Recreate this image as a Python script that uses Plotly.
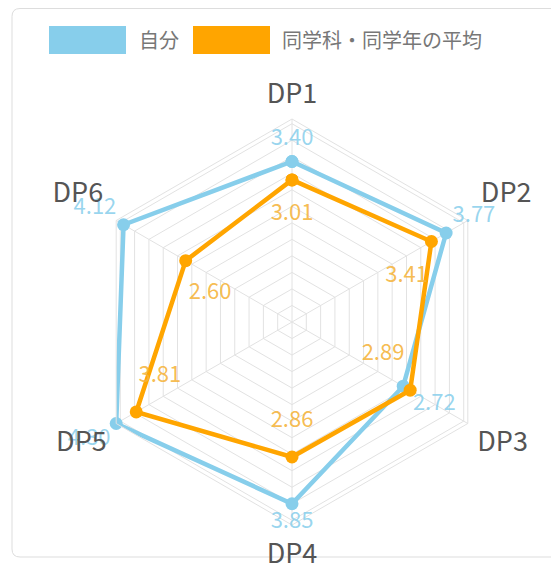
import plotly.graph_objects as go

# page body has an 8px margin, so the figure starts at (8, 8) in the window
OFF = 8
W, H = 559 - OFF, 566 - OFF

dims = ["DP1", "DP2", "DP3", "DP4", "DP5", "DP6"]
self_scores = [3.40, 3.77, 2.72, 3.85, 4.30, 4.12]
avg_scores = [3.01, 3.41, 2.89, 2.86, 3.81, 2.60]
legend_names = ["自分", "同学科・同学年の平均"]

BLUE = "#87CEEB"
ORANGE = "#FFA500"
FONT = "Noto Sans CJK JP"

# label placement (style only)
self_dr = [0.46, 0.68, 0.76, 0.39, 0.66, 0.70]
avg_dr = [-0.74, -0.80, -0.84, -0.75, -0.78, -0.76]
avg_dtheta = [0, 8.4, -10.1, 0, 7.5, -10.5]
dim_ticktext = ["DP1", "DP2<br> ", "DP3", "DP4", "DP5", "DP6<br> "]
dim_label_angles = [0, 62, 120, 180, 240, 298]

spokes = [i * 360 / len(dims) for i in range(len(dims))]


def px(x, y):
    # window pixel -> paper coords
    return (x - OFF) / W, 1 - (y - OFF) / H


fig = go.Figure()

for vals, color, name in [(self_scores, BLUE, legend_names[0]), (avg_scores, ORANGE, legend_names[1])]:
    fig.add_trace(
        go.Scatterpolar(
            r=vals + vals[:1],
            theta=dims + dims[:1],
            mode="lines+markers",
            name=name,
            line=dict(color=color, width=4.5),
            marker=dict(color=color, size=13),
            subplot="polar",
            showlegend=False,
            cliponaxis=False,
        )
    )

fig.add_trace(
    go.Scatterpolar(
        r=[v + d for v, d in zip(self_scores, self_dr)],
        theta=spokes,
        mode="text",
        text=[f"{v:.2f}" for v in self_scores],
        textfont=dict(color="rgba(135,206,235,0.85)", size=22, family=FONT),
        subplot="polar2",
        showlegend=False,
        cliponaxis=False,
    )
)
fig.add_trace(
    go.Scatterpolar(
        r=[v + d for v, d in zip(avg_scores, avg_dr)],
        theta=[t + d for t, d in zip(spokes, avg_dtheta)],
        mode="text",
        text=[f"{v:.2f}" for v in avg_scores],
        textfont=dict(color="rgba(245,180,60,0.9)", size=22, family=FONT),
        subplot="polar2",
        showlegend=False,
        cliponaxis=False,
    )
)

# chart centre and radius, in window pixels
CX, CY, R = 292, 322, 203
rmax = 4.3
R2 = 240  # larger overlay so the outer value labels are not dropped


def dom(rad):
    a = px(CX - rad, CY + rad)
    b = px(CX + rad, CY - rad)
    return dict(x=[a[0], b[0]], y=[a[1], b[1]])


ring_vals = [round(0.35 * i, 2) for i in range(1, 13)]

label_axis = dict(
    type="linear",
    thetaunit="degrees",
    rotation=90,
    direction="clockwise",
    tickmode="array",
    tickvals=dim_label_angles,
    ticktext=dim_ticktext,
    ticks="outside",
    ticklen=5,
    tickcolor="rgba(0,0,0,0)",
    showline=False,
    showgrid=False,
    tickfont=dict(size=27, color="#555555", family=FONT),
)

fig.update_layout(
    width=W,
    height=H,
    autosize=False,
    margin=dict(l=0, r=0, t=0, b=0),
    paper_bgcolor="white",
    plot_bgcolor="white",
    font=dict(family=FONT, color="#555555"),
    polar=dict(
        domain=dom(R),
        bgcolor="rgba(0,0,0,0)",
        gridshape="linear",
        radialaxis=dict(
            range=[0, rmax],
            tickvals=ring_vals,
            showticklabels=False,
            ticks="",
            showline=False,
            gridcolor="#e2e2e2",
            gridwidth=1,
        ),
        angularaxis=dict(
            type="category",
            categoryarray=dims,
            rotation=90,
            direction="clockwise",
            showticklabels=False,
            ticks="",
            showline=True,
            linecolor="#e2e2e2",
            gridcolor="#e2e2e2",
        ),
    ),
    polar2=dict(
        domain=dom(R2),
        bgcolor="rgba(0,0,0,0)",
        radialaxis=dict(range=[0, rmax * R2 / R], visible=False),
        angularaxis=dict(
            type="linear",
            thetaunit="degrees",
            rotation=90,
            direction="clockwise",
            visible=False,
        ),
    ),
    polar3=dict(
        domain=dom(R),
        bgcolor="rgba(0,0,0,0)",
        radialaxis=dict(range=[0, rmax], visible=False),
        angularaxis=label_axis,
    ),
)

# polar3 needs a trace to be drawn; an empty one carries its axis labels
fig.add_trace(go.Scatterpolar(r=[], theta=[], subplot="polar3", showlegend=False, hoverinfo="skip"))

# card border
bx0, by0 = 12, 8.5
bx1, by1 = 620, 557
rr = 8
fig.add_shape(
    type="path",
    xref="paper",
    yref="paper",
    path=(
        f"M {px(bx0, by0 + rr)[0]} {px(bx0, by0 + rr)[1]} "
        f"Q {px(bx0, by0)[0]} {px(bx0, by0)[1]} {px(bx0 + rr, by0)[0]} {px(bx0 + rr, by0)[1]} "
        f"L {px(bx1, by0)[0]} {px(bx1, by0)[1]} "
        f"L {px(bx1, by1)[0]} {px(bx1, by1)[1]} "
        f"L {px(bx0 + rr, by1)[0]} {px(bx0 + rr, by1)[1]} "
        f"Q {px(bx0, by1)[0]} {px(bx0, by1)[1]} {px(bx0, by1 - rr)[0]} {px(bx0, by1 - rr)[1]} Z"
    ),
    line=dict(color="#dddddd", width=1),
    layer="below",
)

# legend
for (x0, x1, tx), color, name in zip([(49, 126, 137), (193, 270, 280)], [BLUE, ORANGE], legend_names):
    a = px(x0, 26)
    b = px(x1, 54)
    fig.add_shape(type="rect", xref="paper", yref="paper", x0=a[0], y0=b[1], x1=b[0], y1=a[1],
                  fillcolor=color, line=dict(width=0))
    t = px(tx, 40)
    fig.add_annotation(x=t[0], y=t[1], xref="paper", yref="paper", text=name, showarrow=False,
                       xanchor="left", yanchor="middle", font=dict(size=20, color="#777777", family=FONT))

fig.write_html("out.html")
